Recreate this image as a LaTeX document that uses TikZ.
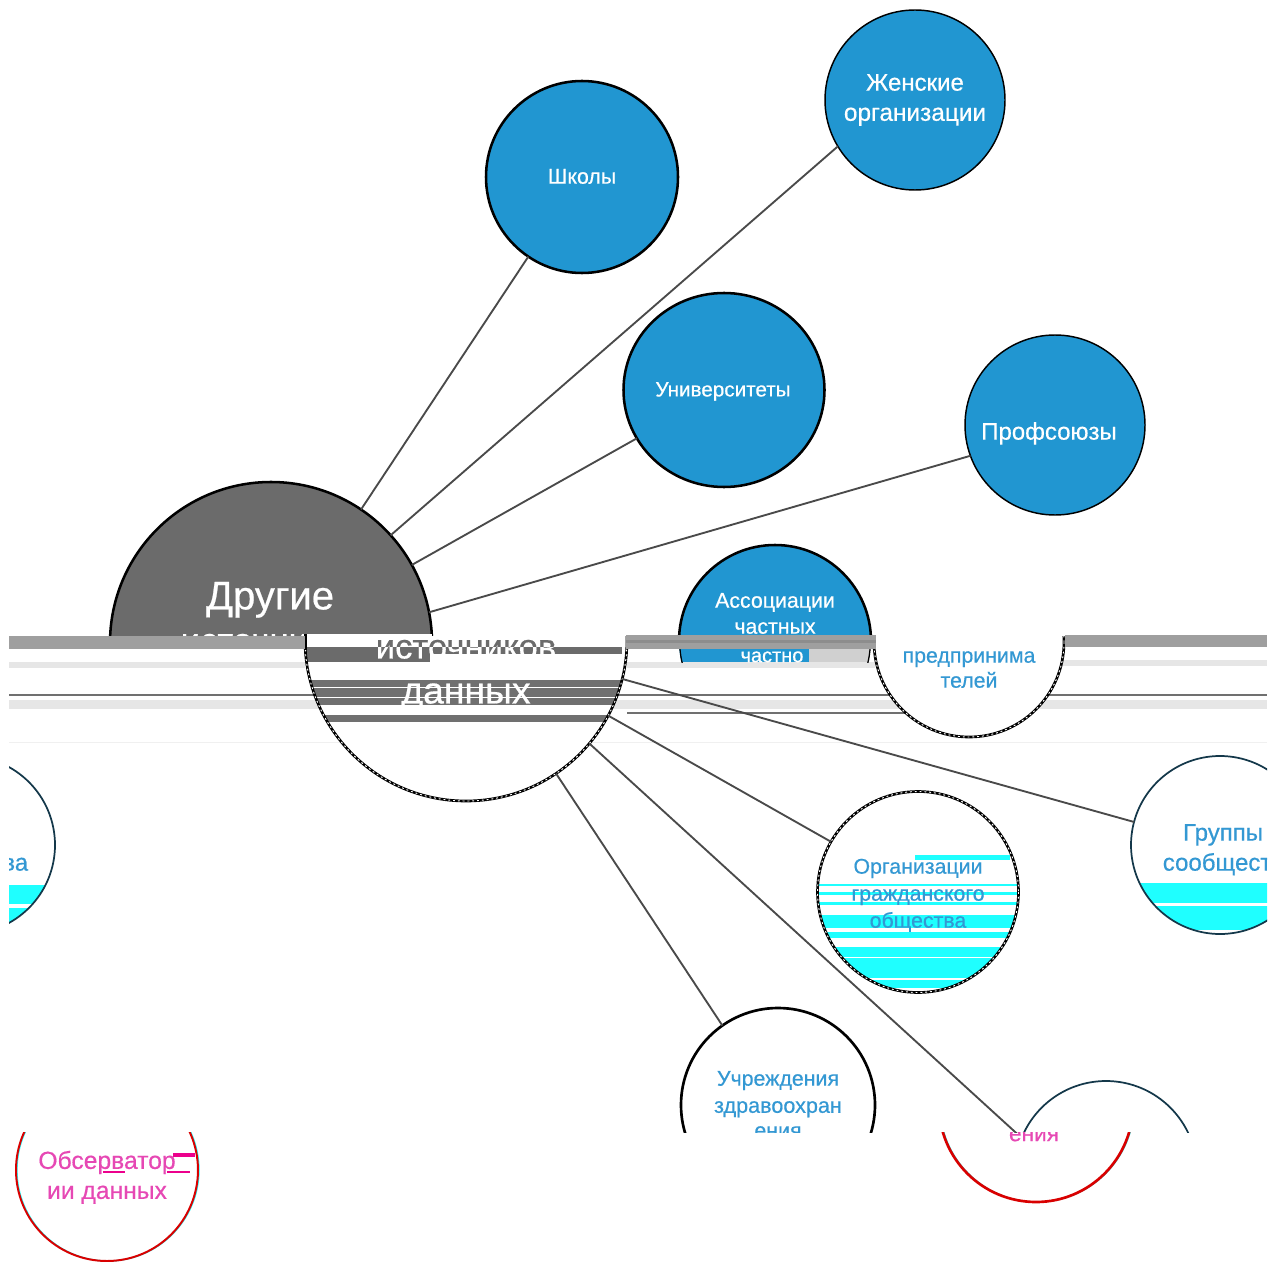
\documentclass[tikz,border=0pt]{standalone}
\usepackage{fontspec}
\setmainfont{Liberation Sans}
\newfontfamily\semib{Liberation Sans}[FakeBold=0.5]
\usetikzlibrary{shapes.geometric}
\definecolor{nblue}{HTML}{2196D1}
\definecolor{ngrey}{HTML}{6B6B6B}
\definecolor{bandgrey}{HTML}{9F9F9F}
\definecolor{stripe}{HTML}{707070}
\definecolor{pale}{HTML}{E6E6E6}
\definecolor{midpale}{HTML}{D0D0D0}
\definecolor{aqua}{HTML}{1FFFFF}
\definecolor{txtblue}{HTML}{3398D3}
\definecolor{txtpink}{HTML}{E648B4}
\definecolor{edgeteal}{HTML}{14384A}
\definecolor{conn}{HTML}{4A4A4A}
\tikzset{
  every node/.style={inner sep=0pt,outer sep=0pt},
  circ/.style={circle,minimum size=#1*1.5pt},
  bluec/.style={circ=#1,fill=nblue,draw=black,line width=1.1pt},
  thickc/.style={circ=#1,fill=nblue,draw=black,line width=1.9pt},
  greyc/.style={circ=#1,fill=ngrey,draw=black,line width=1.9pt},
  hollow/.style={circ=#1,draw=edgeteal,line width=1.3pt},
  hollowthick/.style={circ=#1,draw=black,line width=2pt},
  linkline/.style={draw=conn,line width=1.4pt},
  lbl/.style={font=\semib\fontsize{#1}{#1}\selectfont,align=center,text height=#1*.72pt,text depth=0pt},
  wlabel/.style={lbl=#1,text=white},
  blabel/.style={lbl=#1,text=txtblue},
  plabel/.style={lbl=#1,text=txtpink},
  glabel/.style={lbl=#1,text=ngrey},
  speck/.style={white,line width=.7pt,dash pattern=on 1.4pt off 2.2pt}
}
\begin{document}
\begin{tikzpicture}[x=.75pt,y=-.75pt]
\useasboundingbox (0,0) rectangle (1277,1262);
% ---------- top slice ----------
\begin{scope}
\clip (0,0) rectangle (1277,636);
\node[greyc=161] (src) at (271,643) {};
\node[thickc=96] (shk) at (582,177) {};
\node[bluec=90] (fem) at (915,100) {};
\node[ellipse,minimum width=150.75pt,minimum height=145.5pt,fill=nblue,draw=black,line width=1.9pt] (uni) at (724,390) {};
\node[bluec=90] (prf) at (1055,425) {};
\node[thickc=96] (asc) at (775,641) {};
\draw[linkline] (src.56.3) -- (shk.236.6);
\draw[linkline] (src.42) -- (fem.211.3);
\draw[linkline] (src.29.7) -- (uni.209.6);
\draw[linkline] (src.11.2) -- (prf.200.4);
\node[wlabel=16] (tshk) at (582,176) {Школы};
\node[wlabel=18] (tfem1) at (915,82) {Женские};
\node[wlabel=18.3] (tfem2) at (915,112) {организации};
\node[wlabel=15.5] (tuni) at (723,389) {Университеты};
\node[wlabel=18] (tprf) at (1049,431) {Профсоюзы};
\node[wlabel=30] (tsrc1) at (270,595) {Другие};
\node[wlabel=16] (tasc1) at (775,600) {Ассоциации};
\node[wlabel=16] (tasc2) at (775,626) {частных};
\begin{scope}
\clip (180,620) rectangle (323,636);
\node[wlabel=26] (tsrc2) at (271,640) {источников};
\end{scope}
\end{scope}
% ---------- middle slice ----------
\begin{scope}
\clip (9,636) rectangle (1267,1132);
% pale stripes across the slice
\fill[pale] (9,662) rectangle (305,668);
\fill[pale] (627,662) rectangle (875,668);
\fill[pale] (1060,660) rectangle (1267,666);
\fill[stripe] (9,694) rectangle (1267,696);
\fill[pale] (9,700) rectangle (1267,709);
\fill[stripe] (627,712) rectangle (905,713.5);
\fill[pale!60] (9,741.5) rectangle (1267,743);
% fills of the circles
\fill[white] (466,640) circle (161);
\fill[white] (969,642) circle (95);
\fill[white] (918,892) circle (100);
\fill[white] (1220,845) circle (89);
\fill[white] (-34,845) circle (89);
\fill[white] (778,1105) circle (97);
\fill[white] (1106,1172) circle (91);
% stripes inside the big circle
\begin{scope}
\clip (466,640) circle (161);
\fill[ngrey] (305,647) rectangle (430,662);
\fill[ngrey] (375,647) rectangle (622,654);
\fill[stripe] (305,680) rectangle (627,687);
\fill[stripe] (305,688) rectangle (627,697);
\fill[stripe] (305,698) rectangle (627,705);
\fill[stripe] (305,715) rectangle (627,722);
\end{scope}
% aqua bands
\begin{scope}
\clip (918,892) circle (100);
\fill[aqua] (915,855) rectangle (1010,860);
\foreach \a/\b in {884/886,892/895,902/905,915/928,932/938,947/957,958/978,980/988}
  \fill[aqua] (815,\a) rectangle (1020,\b);
\end{scope}
\begin{scope}
\clip (1220,845) circle (89);
\fill[aqua] (1130,883) rectangle (1310,903);
\fill[aqua] (1130,906) rectangle (1310,930);
\end{scope}
\begin{scope}
\clip (-34,845) circle (89);
\fill[aqua] (-130,885) rectangle (60,904);
\fill[aqua] (-130,908) rectangle (60,930);
\end{scope}
% circles
\node[hollowthick=161] (src2) at (466,640) {};
\node[hollowthick=95] (asc2) at (969,642) {};
\node[hollowthick=100.5] (org) at (918,892) {};
\node[hollow=89] (grp) at (1220,845) {};
\node[hollow=89] (grpw) at (-34,845) {};
\node[hollowthick=97] (uch) at (778,1105) {};
\node[hollow=91] (obs) at (1106,1172) {};
\draw[speck] (466,640) circle (161);
\draw[speck] (969,642) circle (95);
\draw[speck] (918,892) circle (100.5);
\draw[linkline] (src2.-14) -- (grp.165.5);
\draw[linkline] (src2.-28.4) -- (org.150.9);
\draw[linkline] (src2.-40.3) -- (obs.158);
\draw[linkline] (src2.-56.6) -- (uch.125);
% texts
\begin{scope}
\clip (360,636) rectangle (575,647);
\node[glabel=26] (tsrc3a) at (466,646) {источников};
\end{scope}
\begin{scope}
\clip (360,647) rectangle (575,670);
\node[wlabel=26] (tsrc3b) at (466,646) {источников};
\end{scope}
\node[wlabel=28] (tsrc4) at (466,690) {данных};
\node[blabel=16] (tasc3) at (969,655) {предпринима};
\node[blabel=16] (tasc4) at (969,680) {телей};
\node[blabel=16] (torg1) at (918,866) {Организации};
\node[blabel=16] (torg2) at (918,893) {гражданского};
\node[blabel=16] (torg3) at (918,920) {общества};
\node[blabel=18] (tgrp1) at (1223,832) {Группы};
\node[blabel=18] (tgrp2) at (1230,862) {сообщества};
\node[blabel=18] (tgrp3) at (-39,862) {сообщества};
\node[blabel=16] (tuch1) at (778,1078) {Учреждения};
\node[blabel=16.2] (tuch2) at (778,1105) {здравоохран};
\node[blabel=16] (tuch3) at (778,1130) {ения};
\end{scope}
% grey bar pieces over the seam
\fill[white] (305,634) rectangle (432,636);
\fill[black] (304,634) rectangle (307,650);
\fill[bandgrey] (9,636) rectangle (305,649);
\fill[bandgrey] (626,634.5) rectangle (876,649);
\fill[stripe!80] (626,640) rectangle (876,643);
\fill[bandgrey] (1065,635) rectangle (1267,647);
\begin{scope}
\clip (775,641) circle (96);
\fill[nblue] (672,649) rectangle (809,662);
\fill[midpale] (809,649) rectangle (875,662);
\begin{scope}
\clip (672,649) rectangle (875,662);
\draw[black,line width=1.9pt] (775,641) circle (96);
\node[wlabel=15] (tasc5) at (772,655) {частно};
\end{scope}
\end{scope}
% ---------- bottom slice ----------
\begin{scope}
\clip (0,1132) rectangle (1277,1262);
\node[circ=97,draw=aqua,line width=1pt] (uchx) at (1037,1105) {};
\node[circ=97,draw=red!85!black,line width=2pt] (uch3) at (1036,1105) {};
\node[circ=91,draw=aqua,line width=1pt] (obsx) at (108,1170) {};
\node[circ=91,draw=red!85!black,line width=1.5pt] (obs3) at (107,1170) {};
\fill[magenta] (173,1153) rectangle (195,1157);
\fill[magenta] (103,1171) rectangle (125,1173);
\fill[magenta] (167,1171) rectangle (190,1173);
\node[plabel=18.5] (tobs1) at (107,1160) {Обсерватор};
\node[plabel=18.5] (tobs2) at (107,1190) {ии данных};
\node[plabel=17] (tuch4) at (1034,1133) {ения};
\end{scope}
\end{tikzpicture}
\end{document}
